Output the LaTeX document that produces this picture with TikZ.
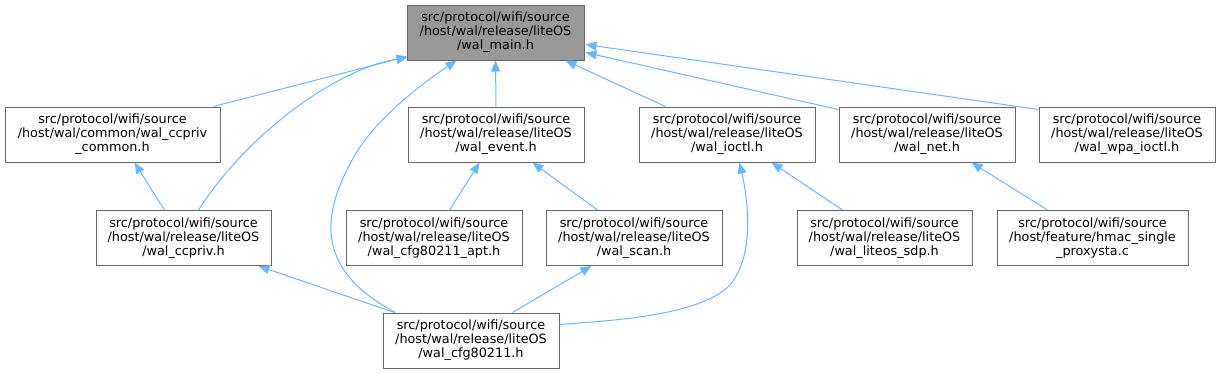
\documentclass[tikz,border=0pt]{standalone}
\usepackage{fontspec}
\setmainfont{DejaVu Sans}
\usetikzlibrary{arrows.meta,calc}
\definecolor{edgec}{RGB}{99,184,255}
\definecolor{boxc}{RGB}{102,102,102}
\definecolor{mainfill}{RGB}{153,153,153}
\begin{document}
\begin{tikzpicture}[x=1pt,y=-1pt,
  box/.style={draw=boxc,line width=1pt,fill=white,minimum height=55pt,inner sep=0pt,align=center,
    font=\fontsize{12.8}{14}\selectfont,text=black},
  edge/.style={{Triangle[length=11pt,width=9pt]}-,draw=edgec,color=edgec,line width=1pt}]
\useasboundingbox (0,0) rectangle (1221,373);
\node[box,fill=mainfill,minimum width=177pt] (main) at (495.5,32.5) {src/protocol/wifi/source\\/host/wal/release/liteOS\\/wal\_main.h};
\node[box,minimum width=215pt] (ccpc) at (112.5,134.5) {src/protocol/wifi/source\\/host/wal/common/wal\_ccpriv\\\_common.h};
\node[box,minimum width=176pt] (event) at (496,134.5) {src/protocol/wifi/source\\/host/wal/release/liteOS\\/wal\_event.h};
\node[box,minimum width=176pt] (ioctl) at (727,134.5) {src/protocol/wifi/source\\/host/wal/release/liteOS\\/wal\_ioctl.h};
\node[box,minimum width=176pt] (net) at (927,134.5) {src/protocol/wifi/source\\/host/wal/release/liteOS\\/wal\_net.h};
\node[box,minimum width=176pt] (wpa) at (1127,134.5) {src/protocol/wifi/source\\/host/wal/release/liteOS\\/wal\_wpa\_ioctl.h};
\node[box,minimum width=175pt] (ccpriv) at (183.5,238) {src/protocol/wifi/source\\/host/wal/release/liteOS\\/wal\_ccpriv.h};
\node[box,minimum width=176pt] (apt) at (434,238) {src/protocol/wifi/source\\/host/wal/release/liteOS\\/wal\_cfg80211\_apt.h};
\node[box,minimum width=176pt] (scan) at (634,238) {src/protocol/wifi/source\\/host/wal/release/liteOS\\/wal\_scan.h};
\node[box,minimum width=175pt] (sdp) at (884.5,238) {src/protocol/wifi/source\\/host/wal/release/liteOS\\/wal\_liteos\_sdp.h};
\node[box,minimum width=191pt] (proxy) at (1092.5,238) {src/protocol/wifi/source\\/host/feature/hmac\_single\\\_proxysta.c};
\node[box,minimum width=176pt] (cfg) at (471,340.5) {src/protocol/wifi/source\\/host/wal/release/liteOS\\/wal\_cfg80211.h};
% edges to main
\draw[edge] ($(main.south west)+(1,-4)$) -- ($(ccpc.north east)+(-7,0)$);
\draw[edge] ($(main.south west)+(1,-3)$) .. controls (340,68) and (250,130) .. ($(ccpriv.north west)+(103,0)$);
\draw[edge] ($(main.south west)+(50,0)$) .. controls (420,85) and (375,120) .. (355,155) .. controls (320,215) and (315,270) .. ($(cfg.north west)+(13,0)$);
\draw[edge] (main.south) -- (event.north);
\draw[edge] ($(main.south east)+(-19,0)$) -- ($(ioctl.north west)+(27,0)$);
\draw[edge] ($(main.south east)+(1,-8)$) -- ($(net.north west)+(0,3)$);
\draw[edge] ($(main.south east)+(1,-16)$) -- ($(wpa.north west)+(0,3)$);
% other edges
\draw[edge] ($(ccpc.south west)+(130,0)$) -- ($(ccpriv.north west)+(69,0)$);
\draw[edge] ($(event.south west)+(72,0)$) -- ($(apt.north west)+(104,0)$);
\draw[edge] ($(event.south west)+(125,0)$) -- ($(scan.north west)+(52,0)$);
\draw[edge] ($(ccpriv.south east)+(-13,0)$) -- ($(cfg.north west)+(12,0)$);
\draw[edge] ($(scan.south west)+(46,0)$) -- ($(cfg.north west)+(130,0)$);
\draw[edge] ($(ioctl.south west)+(101,0)$) .. controls (748,200) and (755,255) .. (730,285) .. controls (700,315) and (620,320) .. ($(cfg.north east)+(0,12)$);
\draw[edge] ($(ioctl.south west)+(133,0)$) -- ($(sdp.north west)+(46,0)$);
\draw[edge] ($(net.south west)+(133,0)$) -- ($(proxy.north west)+(51,0)$);
\end{tikzpicture}
\end{document}
